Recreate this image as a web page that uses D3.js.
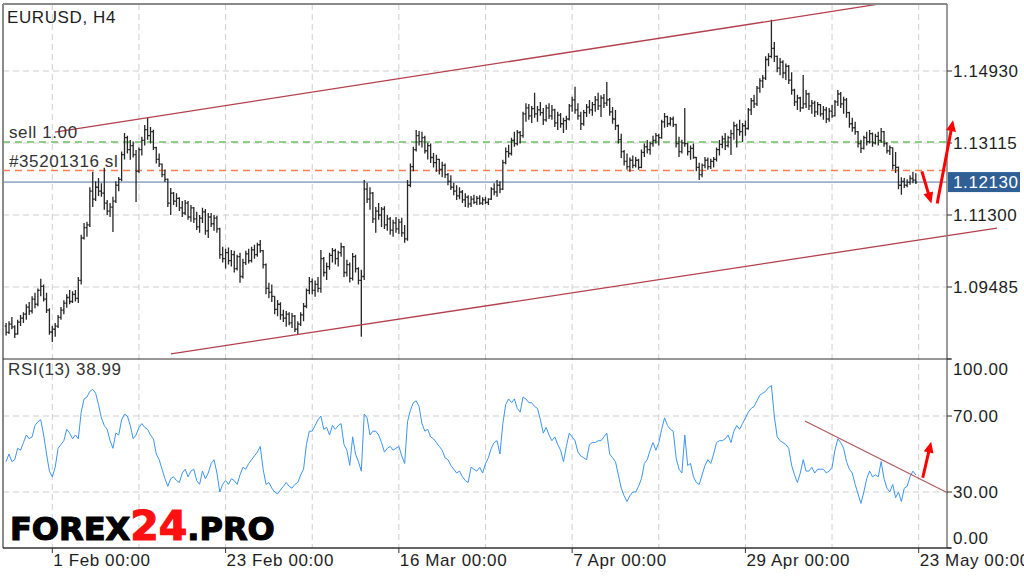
<!DOCTYPE html>
<html><head><meta charset="utf-8">
<script src="https://cdn.jsdelivr.net/npm/d3@7"></script>
<style>html,body{margin:0;padding:0;background:#fff;}svg{display:block;}</style>
</head><body>
<svg id="chart" width="1024" height="577"></svg>
<script>
const symbolTitle = "EURUSD, H4";
const opens = [
1.0850,1.0834,1.0855,1.0848,1.0830,1.0860,1.0870,1.0880,1.0898,1.0888,
1.0918,1.0905,1.0940,1.0950,1.0918,1.0890,1.0835,1.0842,1.0850,1.0872,
1.0890,1.0908,1.0922,1.0912,1.0930,1.0920,1.0965,1.1072,1.1098,1.1105,
1.1190,1.1170,1.1200,1.1190,1.1185,1.1160,1.1140,1.1150,1.1165,1.1205,
1.1220,1.1282,1.1325,1.1295,1.1305,1.1282,1.1240,1.1295,1.1318,1.1345,
1.1330,1.1340,1.1300,1.1270,1.1258,1.1232,1.1220,1.1160,1.1185,1.1165,
1.1172,1.1148,1.1135,1.1160,1.1125,1.1148,1.1120,1.1100,1.1122,1.1138,
1.1090,1.1125,1.1108,1.1122,1.1095,1.1030,1.1020,1.1035,1.1015,1.1030,
1.0995,1.1025,1.0975,1.1010,1.1032,1.1015,1.1042,1.1030,1.1055,1.1040,
1.1005,1.0945,1.0935,1.0925,1.0892,1.0905,1.0878,1.0870,1.0880,1.0858,
1.0875,1.0842,1.0855,1.0878,1.0900,1.0940,1.0962,1.0940,1.0955,1.0945,
1.1020,1.0985,1.1000,1.1028,1.1040,1.1020,1.1035,1.1050,1.0985,1.1005,
1.0970,1.1025,1.0995,1.0965,1.0975,1.1195,1.1170,1.1185,1.1120,1.1140,
1.1130,1.1145,1.1105,1.1120,1.1092,1.1110,1.1095,1.1112,1.1085,1.1070,
1.1205,1.1252,1.1295,1.1330,1.1315,1.1325,1.1292,1.1305,1.1275,1.1262,
1.1270,1.1245,1.1255,1.1232,1.1215,1.1200,1.1190,1.1178,1.1188,1.1168,
1.1175,1.1158,1.1170,1.1162,1.1172,1.1160,1.1168,1.1162,1.1170,1.1195,
1.1188,1.1205,1.1195,1.1262,1.1290,1.1285,1.1318,1.1310,1.1338,1.1330,
1.1385,1.1400,1.1380,1.1398,1.1385,1.1395,1.1388,1.1370,1.1400,1.1380,
1.1395,1.1362,1.1382,1.1360,1.1368,1.1372,1.1405,1.1420,1.1395,1.1380,
1.1360,1.1388,1.1402,1.1395,1.1408,1.1420,1.1405,1.1425,1.1412,1.1420,
1.1390,1.1372,1.1355,1.1320,1.1290,1.1265,1.1252,1.1268,1.1255,1.1268,
1.1250,1.1288,1.1302,1.1295,1.1310,1.1318,1.1330,1.1325,1.1365,1.1378,
1.1360,1.1372,1.1358,1.1310,1.1290,1.1312,1.1310,1.1290,1.1298,1.1275,
1.1250,1.1232,1.1255,1.1268,1.1252,1.1265,1.1270,1.1295,1.1308,1.1322,
1.1305,1.1325,1.1335,1.1355,1.1345,1.1340,1.1355,1.1348,1.1395,1.1418,
1.1410,1.1450,1.1468,1.1475,1.1522,1.1530,1.1550,1.1530,1.1500,1.1515,
1.1488,1.1505,1.1470,1.1445,1.1415,1.1425,1.1400,1.1410,1.1435,1.1405,
1.1412,1.1390,1.1408,1.1385,1.1395,1.1372,1.1392,1.1380,1.1415,1.1435,
1.1410,1.1420,1.1388,1.1360,1.1350,1.1340,1.1310,1.1298,1.1325,1.1315,
1.1335,1.1312,1.1328,1.1318,1.1340,1.1310,1.1292,1.1300,1.1255,1.1250,
1.1205,1.1215,1.1205,1.1212,1.1222,1.1218];
const highs = [
1.0858,1.0862,1.0873,1.0852,1.0866,1.0878,1.0885,1.0905,1.0911,1.0925,
1.0934,1.0945,1.0969,1.0955,1.0934,1.0895,1.0850,1.0858,1.0878,1.0898,
1.0915,1.0930,1.0941,1.0938,1.0941,1.0974,1.1080,1.1110,1.1113,1.1200,
1.1239,1.1215,1.1223,1.1210,1.1249,1.1168,1.1160,1.1176,1.1215,1.1226,
1.1290,1.1337,1.1330,1.1319,1.1315,1.1294,1.1300,1.1327,1.1357,1.1375,
1.1352,1.1345,1.1302,1.1285,1.1260,1.1245,1.1222,1.1198,1.1188,1.1185,
1.1175,1.1165,1.1168,1.1165,1.1155,1.1150,1.1138,1.1130,1.1148,1.1145,
1.1135,1.1135,1.1130,1.1128,1.1098,1.1050,1.1045,1.1048,1.1042,1.1040,
1.1030,1.1035,1.1020,1.1040,1.1045,1.1050,1.1055,1.1060,1.1067,1.1042,
1.1008,1.0959,1.0955,1.0925,1.0916,1.0910,1.0891,1.0888,1.0885,1.0883,
1.0878,1.0862,1.0885,1.0908,1.0945,1.0974,1.0970,1.0965,1.0974,1.1042,
1.1024,1.1010,1.1035,1.1047,1.1045,1.1040,1.1060,1.1052,1.1017,1.1010,
1.1034,1.1030,1.0998,1.0992,1.1218,1.1211,1.1200,1.1188,1.1150,1.1160,
1.1150,1.1152,1.1130,1.1125,1.1118,1.1125,1.1120,1.1123,1.1105,1.1218,
1.1260,1.1302,1.1344,1.1342,1.1340,1.1330,1.1312,1.1310,1.1286,1.1282,
1.1272,1.1264,1.1260,1.1236,1.1230,1.1211,1.1205,1.1200,1.1193,1.1185,
1.1180,1.1178,1.1181,1.1178,1.1180,1.1175,1.1176,1.1172,1.1200,1.1210,
1.1218,1.1215,1.1269,1.1300,1.1307,1.1325,1.1340,1.1344,1.1342,1.1390,
1.1412,1.1410,1.1405,1.1438,1.1405,1.1415,1.1400,1.1408,1.1412,1.1407,
1.1398,1.1390,1.1387,1.1375,1.1380,1.1410,1.1428,1.1453,1.1412,1.1390,
1.1395,1.1410,1.1420,1.1415,1.1430,1.1438,1.1432,1.1435,1.1465,1.1425,
1.1402,1.1395,1.1358,1.1335,1.1294,1.1285,1.1275,1.1280,1.1276,1.1272,
1.1295,1.1310,1.1319,1.1315,1.1330,1.1337,1.1335,1.1370,1.1387,1.1380,
1.1377,1.1378,1.1360,1.1327,1.1320,1.1400,1.1312,1.1305,1.1310,1.1276,
1.1262,1.1260,1.1276,1.1275,1.1272,1.1276,1.1300,1.1319,1.1330,1.1337,
1.1330,1.1345,1.1365,1.1360,1.1370,1.1362,1.1368,1.1400,1.1425,1.1433,
1.1455,1.1475,1.1483,1.1530,1.1538,1.1622,1.1566,1.1532,1.1526,1.1520,
1.1512,1.1508,1.1490,1.1448,1.1433,1.1428,1.1483,1.1445,1.1438,1.1420,
1.1418,1.1415,1.1410,1.1405,1.1402,1.1400,1.1407,1.1420,1.1445,1.1440,
1.1428,1.1425,1.1390,1.1375,1.1365,1.1342,1.1320,1.1330,1.1340,1.1344,
1.1338,1.1335,1.1340,1.1349,1.1342,1.1314,1.1305,1.1300,1.1289,1.1252,
1.1225,1.1223,1.1220,1.1230,1.1239,1.1235];
const lows = [
1.0826,1.0830,1.0842,1.0820,1.0828,1.0850,1.0858,1.0866,1.0878,1.0882,
1.0895,1.0900,1.0925,1.0912,1.0883,1.0828,1.0810,1.0823,1.0845,1.0866,
1.0880,1.0896,1.0905,1.0908,1.0912,1.0908,1.0955,1.1068,1.1075,1.1100,
1.1150,1.1165,1.1178,1.1176,1.1143,1.1130,1.1125,1.1087,1.1160,1.1190,
1.1215,1.1270,1.1285,1.1269,1.1275,1.1163,1.1235,1.1280,1.1305,1.1320,
1.1310,1.1294,1.1260,1.1251,1.1225,1.1213,1.1150,1.1130,1.1155,1.1150,
1.1140,1.1125,1.1130,1.1118,1.1113,1.1110,1.1092,1.1085,1.1110,1.1080,
1.1072,1.1100,1.1090,1.1085,1.1020,1.1010,1.0995,1.1005,1.1000,1.0985,
1.0990,1.0959,1.0970,1.1004,1.1008,1.1010,1.1020,1.1025,1.1035,1.0995,
1.0930,1.0920,1.0911,1.0880,1.0875,1.0866,1.0860,1.0848,1.0852,1.0845,
1.0835,1.0828,1.0850,1.0862,1.0895,1.0930,1.0930,1.0924,1.0935,1.0934,
1.0975,1.0966,1.0992,1.1010,1.1005,1.1000,1.1025,1.0974,1.0975,1.0960,
1.0965,1.0985,1.0955,1.0823,1.0966,1.1160,1.1143,1.1110,1.1085,1.1118,
1.1100,1.1095,1.1090,1.1080,1.1075,1.1085,1.1082,1.1075,1.1060,1.1065,
1.1200,1.1240,1.1290,1.1305,1.1300,1.1285,1.1270,1.1261,1.1250,1.1239,
1.1232,1.1225,1.1223,1.1205,1.1193,1.1180,1.1168,1.1170,1.1160,1.1150,
1.1148,1.1150,1.1158,1.1155,1.1156,1.1155,1.1158,1.1155,1.1168,1.1180,
1.1176,1.1185,1.1193,1.1258,1.1275,1.1280,1.1302,1.1305,1.1310,1.1325,
1.1365,1.1370,1.1362,1.1375,1.1365,1.1380,1.1357,1.1365,1.1372,1.1370,
1.1352,1.1344,1.1350,1.1337,1.1345,1.1368,1.1390,1.1385,1.1370,1.1344,
1.1355,1.1377,1.1385,1.1380,1.1390,1.1395,1.1377,1.1400,1.1405,1.1380,
1.1360,1.1344,1.1310,1.1274,1.1255,1.1245,1.1239,1.1248,1.1250,1.1244,
1.1248,1.1276,1.1285,1.1282,1.1302,1.1310,1.1305,1.1322,1.1350,1.1352,
1.1355,1.1352,1.1300,1.1276,1.1285,1.1302,1.1280,1.1269,1.1272,1.1240,
1.1218,1.1225,1.1248,1.1244,1.1246,1.1250,1.1265,1.1280,1.1298,1.1294,
1.1300,1.1281,1.1320,1.1300,1.1330,1.1314,1.1330,1.1345,1.1382,1.1400,
1.1405,1.1438,1.1450,1.1470,1.1505,1.1525,1.1516,1.1490,1.1482,1.1475,
1.1470,1.1460,1.1433,1.1405,1.1395,1.1390,1.1398,1.1400,1.1395,1.1385,
1.1377,1.1382,1.1378,1.1370,1.1362,1.1365,1.1375,1.1378,1.1405,1.1400,
1.1385,1.1375,1.1350,1.1340,1.1332,1.1300,1.1286,1.1295,1.1305,1.1310,
1.1302,1.1308,1.1305,1.1312,1.1302,1.1285,1.1281,1.1245,1.1236,1.1195,
1.1181,1.1198,1.1200,1.1206,1.1210,1.1208];
const closes = [
1.0834,1.0855,1.0848,1.0830,1.0860,1.0870,1.0880,1.0898,1.0888,1.0918,
1.0905,1.0940,1.0950,1.0918,1.0890,1.0835,1.0842,1.0850,1.0872,1.0890,
1.0908,1.0922,1.0912,1.0930,1.0920,1.0965,1.1072,1.1098,1.1105,1.1190,
1.1170,1.1200,1.1190,1.1185,1.1160,1.1140,1.1150,1.1165,1.1205,1.1220,
1.1282,1.1325,1.1295,1.1305,1.1282,1.1240,1.1295,1.1318,1.1345,1.1330,
1.1340,1.1300,1.1270,1.1258,1.1232,1.1220,1.1160,1.1185,1.1165,1.1172,
1.1148,1.1135,1.1160,1.1125,1.1148,1.1120,1.1100,1.1122,1.1138,1.1090,
1.1125,1.1108,1.1122,1.1095,1.1030,1.1020,1.1035,1.1015,1.1030,1.0995,
1.1025,1.0975,1.1010,1.1032,1.1015,1.1042,1.1030,1.1055,1.1040,1.1005,
1.0945,1.0935,1.0925,1.0892,1.0905,1.0878,1.0870,1.0880,1.0858,1.0875,
1.0842,1.0855,1.0878,1.0900,1.0940,1.0962,1.0940,1.0955,1.0945,1.1020,
1.0985,1.1000,1.1028,1.1040,1.1020,1.1035,1.1050,1.0985,1.1005,1.0970,
1.1025,1.0995,1.0965,1.0975,1.1195,1.1170,1.1185,1.1120,1.1140,1.1130,
1.1145,1.1105,1.1120,1.1092,1.1110,1.1095,1.1112,1.1085,1.1070,1.1205,
1.1252,1.1295,1.1330,1.1315,1.1325,1.1292,1.1305,1.1275,1.1262,1.1270,
1.1245,1.1255,1.1232,1.1215,1.1200,1.1190,1.1178,1.1188,1.1168,1.1175,
1.1158,1.1170,1.1162,1.1172,1.1160,1.1168,1.1162,1.1170,1.1195,1.1188,
1.1205,1.1195,1.1262,1.1290,1.1285,1.1318,1.1310,1.1338,1.1330,1.1385,
1.1400,1.1380,1.1398,1.1385,1.1395,1.1388,1.1370,1.1400,1.1380,1.1395,
1.1362,1.1382,1.1360,1.1368,1.1372,1.1405,1.1420,1.1395,1.1380,1.1360,
1.1388,1.1402,1.1395,1.1408,1.1420,1.1405,1.1425,1.1412,1.1420,1.1390,
1.1372,1.1355,1.1320,1.1290,1.1265,1.1252,1.1268,1.1255,1.1268,1.1250,
1.1288,1.1302,1.1295,1.1310,1.1318,1.1330,1.1325,1.1365,1.1378,1.1360,
1.1372,1.1358,1.1310,1.1290,1.1312,1.1310,1.1290,1.1298,1.1275,1.1250,
1.1232,1.1255,1.1268,1.1252,1.1265,1.1270,1.1295,1.1308,1.1322,1.1305,
1.1325,1.1335,1.1355,1.1345,1.1340,1.1355,1.1348,1.1395,1.1418,1.1410,
1.1450,1.1468,1.1475,1.1522,1.1530,1.1550,1.1530,1.1500,1.1515,1.1488,
1.1505,1.1470,1.1445,1.1415,1.1425,1.1400,1.1410,1.1435,1.1405,1.1412,
1.1390,1.1408,1.1385,1.1395,1.1372,1.1392,1.1380,1.1415,1.1435,1.1410,
1.1420,1.1388,1.1360,1.1350,1.1340,1.1310,1.1298,1.1325,1.1315,1.1335,
1.1312,1.1328,1.1318,1.1340,1.1310,1.1292,1.1300,1.1255,1.1250,1.1205,
1.1215,1.1205,1.1212,1.1222,1.1218,1.1213];
const rsiValues = [
46,50,46,47,53,52,56,60,58,59,
65,67,68,60,50,41,38,43,53,55,
57,63,61,58,60,58,72,79,80,83,
84,82,76,69,65,63,57,53,61,60,
68,71,70,65,58,60,64,66,64,63,
60,58,50,47,42,37,33,37,38,36,
35,40,42,38,41,42,36,34,41,37,
40,45,47,40,30,34,36,34,37,36,
34,39,43,42,45,47,49,51,54,42,
34,35,32,30,29,31,33,35,33,32,
34,35,39,42,55,62,62,65,68,70,
63,64,60,65,63,65,66,55,52,44,
59,50,46,41,71,69,60,62,62,60,
56,51,53,54,52,53,54,49,45,67,
73,77,78,75,66,62,63,59,58,56,
54,52,48,47,44,42,40,41,38,36,
35,43,42,41,43,40,45,48,53,56,
57,50,66,76,79,77,79,74,72,80,
79,77,77,75,74,68,61,64,60,57,
59,55,52,46,54,61,59,57,51,49,
48,47,55,56,56,57,57,59,61,50,
48,46,39,32,28,25,28,30,30,33,
37,45,47,52,56,52,56,63,69,65,
63,62,48,42,40,60,44,45,38,35,
34,39,44,47,45,50,56,57,57,58,
60,56,62,65,63,66,69,72,74,75,
78,81,82,83,85,86,70,59,57,56,
55,53,44,39,35,40,47,41,41,43,
40,42,42,42,40,41,43,52,58,56,
53,46,42,40,34,29,24,30,37,41,
38,39,38,46,37,32,30,34,27,30,
25,32,33,38,41,38.99];
const rsiName = "RSI(13)";
const priceTicks = [1.14930, 1.13115, 1.11300, 1.09485];
const rsiTicks = [100, 70, 30, 0];
const rsiGridLevels = [70, 30];
const gridBars = [16, 46, 76, 106, 136, 166, 196, 226, 256, 286, 316];
const timeTickBars = [16, 76, 136, 196, 256, 316];
const timeTickLabels = ["1 Feb 00:00", "23 Feb 00:00", "16 Mar 00:00", "7 Apr 00:00", "29 Apr 00:00", "23 May 00:00"];
const lastPrice = 1.12130;
const sellLevel = 1.1314;
const stopLevel = 1.1242;
const orderLabels = ["sell 1.00", "#35201316 sl"];
const upperChannel = [[16.9, 1.1339], [302.6, 1.1662]];
const lowerChannel = [[57.1, 1.0780], [343.1, 1.1097]];
const rsiTrendLine = [[276.6, 67.4], [326.1, 29.5]];
const priceArrows = [[[317.1, 1.1240], [320.4, 1.1159]], [[322.4, 1.1159], [327.9, 1.1369]]];
const rsiArrow = [[317.4, 37.5], [320.3, 56.5]];
const logoParts = [["FOREX", "#000"], ["24", "#ff1010"], [".PRO", "#000"]];

// ---- layout ----
const Lx = 3, Rx = 947, Ty = 4, SEPy = 359, By = 548;
const FONT = "'Liberation Sans', Arial, sans-serif";
const svg = d3.select("#chart");
const x = d3.scaleLinear().domain([0, 316]).range([6.1, 918.7]);
const y = d3.scaleLinear().domain([1.09485, 1.14930]).range([287, 71]);
const yr = d3.scaleLinear().domain([0, 100]).range([549, 359]);

svg.append("rect").attr("width", 1024).attr("height", 577).attr("fill", "#fff");
const defs = svg.append("defs");
defs.append("clipPath").attr("id", "cp").append("rect").attr("x", Lx).attr("y", Ty).attr("width", Rx - Lx).attr("height", SEPy - Ty);
defs.append("clipPath").attr("id", "cr").append("rect").attr("x", Lx).attr("y", SEPy).attr("width", Rx - Lx).attr("height", By - SEPy);

const grid = svg.append("g").attr("stroke", "#cfcfcf").attr("stroke-dasharray", "6,4").attr("stroke-width", 1);
grid.selectAll(".vg").data(gridBars).join("line")
  .attr("x1", d => x(d)).attr("x2", d => x(d)).attr("y1", Ty).attr("y2", By);
grid.selectAll(".hg").data(priceTicks).join("line").attr("class", "hg")
  .attr("x1", Lx).attr("x2", Rx).attr("y1", d => y(d)).attr("y2", d => y(d));
grid.selectAll(".rg").data(rsiGridLevels).join("line").attr("class", "rg")
  .attr("x1", Lx).attr("x2", Rx).attr("y1", d => yr(d)).attr("y2", d => yr(d));

// order levels
svg.append("line").attr("x1", Lx).attr("x2", Rx).attr("y1", y(sellLevel)).attr("y2", y(sellLevel))
  .attr("stroke", "#6fc163").attr("stroke-width", 1.5).attr("stroke-dasharray", "7,5");
svg.append("line").attr("x1", Lx).attr("x2", Rx).attr("y1", y(stopLevel)).attr("y2", y(stopLevel))
  .attr("stroke", "#ff7d4f").attr("stroke-width", 1.5).attr("stroke-dasharray", "7,5");
svg.append("line").attr("x1", Lx).attr("x2", Rx).attr("y1", y(lastPrice)).attr("y2", y(lastPrice))
  .attr("stroke", "#52739f").attr("stroke-width", 1);

// bars
const n = Math.min(opens.length, highs.length, lows.length, closes.length);
const bars = d3.range(n);
svg.append("g").attr("clip-path", "url(#cp)").selectAll("path").data(bars).join("path")
  .attr("d", i => {
    const xi = x(i);
    return `M${xi},${y(highs[i])}V${y(lows[i])}M${xi - 1.4},${y(opens[i])}H${xi}M${xi},${y(closes[i])}H${xi + 1.4}`;
  })
  .attr("fill", "none").attr("stroke", "#262626").attr("stroke-width", 1.3);

// channel lines
const pl = d3.line().x(d => x(d[0])).y(d => y(d[1]));
[upperChannel, lowerChannel].forEach(c => svg.append("path").attr("d", pl(c))
  .attr("fill", "none").attr("stroke", "#b3404c").attr("stroke-width", 1.3));

// RSI
const rl = d3.line().x((d, i) => x(i)).y(d => yr(d));
svg.append("path").attr("clip-path", "url(#cr)").attr("d", rl(rsiValues))
  .attr("fill", "none").attr("stroke", "#3d95f2").attr("stroke-width", 1);
svg.append("path").attr("d", d3.line().x(d => x(d[0])).y(d => yr(d[1]))(rsiTrendLine))
  .attr("fill", "none").attr("stroke", "#b3565e").attr("stroke-width", 1.2);

// frame
const frame = svg.append("g");
frame.append("line").attr("x1", Lx).attr("x2", Lx).attr("y1", Ty).attr("y2", By).attr("stroke", "#8a8a8a").attr("stroke-width", 2);
frame.append("line").attr("x1", Lx).attr("x2", Rx).attr("y1", Ty).attr("y2", Ty).attr("stroke", "#8a8a8a").attr("stroke-width", 2);
frame.append("line").attr("x1", Rx).attr("x2", Rx).attr("y1", Ty).attr("y2", By).attr("stroke", "#7a7a7a").attr("stroke-width", 1.5);
frame.append("line").attr("x1", Lx).attr("x2", Rx + 4).attr("y1", SEPy).attr("y2", SEPy).attr("stroke", "#333").attr("stroke-width", 1.2);
frame.append("line").attr("x1", Lx).attr("x2", Rx + 4).attr("y1", By).attr("y2", By).attr("stroke", "#333").attr("stroke-width", 1.5);

// axis ticks & labels
const txt = (sel) => sel.attr("font-family", FONT).attr("font-size", 17).attr("letter-spacing", 0.6).attr("fill", "#1e1e1e");
svg.selectAll(".pt").data(priceTicks).join("line").attr("class", "pt")
  .attr("x1", Rx).attr("x2", Rx + 5).attr("y1", d => y(d)).attr("y2", d => y(d)).attr("stroke", "#333");
svg.selectAll(".ptl").data(priceTicks).join("text").attr("class", "ptl").call(txt)
  .attr("x", Rx + 6).attr("y", d => y(d) + 6).text(d => d.toFixed(5));
svg.selectAll(".rt").data(rsiTicks).join("line").attr("class", "rt")
  .attr("x1", Rx).attr("x2", Rx + 5).attr("y1", d => Math.min(By, Math.max(SEPy, yr(d)))).attr("y2", d => Math.min(By, Math.max(SEPy, yr(d)))).attr("stroke", "#333");
svg.selectAll(".rtl").data(rsiTicks).join("text").attr("class", "rtl").call(txt)
  .attr("x", Rx + 6).attr("y", d => Math.min(By - 4, Math.max(SEPy + 16, yr(d) + 6))).text(d => d.toFixed(2));
svg.selectAll(".tt").data(timeTickBars).join("line").attr("class", "tt")
  .attr("x1", d => x(d)).attr("x2", d => x(d)).attr("y1", By).attr("y2", By + 5).attr("stroke", "#333");
svg.selectAll(".ttl").data(timeTickBars).join("text").attr("class", "ttl").call(txt)
  .attr("x", d => x(d) + 1).attr("y", 566).text((d, i) => timeTickLabels[i]);

// last price tag
svg.append("rect").attr("x", Rx + 1).attr("y", y(lastPrice) - 10).attr("width", 72).attr("height", 20).attr("fill", "#2f5f95");
svg.append("text").call(txt).attr("fill", "#fff").attr("x", Rx + 6).attr("y", y(lastPrice) + 6).text(lastPrice.toFixed(5));

// titles
svg.append("text").call(txt).attr("x", 7).attr("y", 23).text(symbolTitle);
svg.append("text").call(txt).attr("fill", "#333").attr("x", 9).attr("y", y(sellLevel) - 4).text(orderLabels[0]);
svg.append("text").call(txt).attr("fill", "#333").attr("x", 9).attr("y", y(stopLevel) - 4).text(orderLabels[1]);
svg.append("text").call(txt).attr("fill", "#333").attr("x", 8).attr("y", 375)
  .text(rsiName + " " + rsiValues[rsiValues.length - 1].toFixed(2));

// arrows
function arrow(p0, p1) {
  const dx = p1[0] - p0[0], dy = p1[1] - p0[1], len = Math.hypot(dx, dy);
  const ux = dx / len, uy = dy / len, hl = 11, hw = 5;
  const bx = p1[0] - ux * hl, by = p1[1] - uy * hl;
  svg.append("line").attr("x1", p0[0]).attr("y1", p0[1]).attr("x2", bx + ux * 2).attr("y2", by + uy * 2)
    .attr("stroke", "#ff0000").attr("stroke-width", 3);
  svg.append("path").attr("d", `M${p1[0]},${p1[1]}L${bx - uy * hw},${by + ux * hw}L${bx + uy * hw},${by - ux * hw}Z`).attr("fill", "#ff0000");
}
priceArrows.forEach(a => arrow([x(a[0][0]), y(a[0][1])], [x(a[1][0]), y(a[1][1])]));
arrow([x(rsiArrow[0][0]), yr(rsiArrow[0][1])], [x(rsiArrow[1][0]), yr(rsiArrow[1][1])]);

// logo
const logo = svg.append("text").attr("x", 10).attr("y", 540)
  .attr("font-family", "'DejaVu Sans', sans-serif").attr("font-weight", "bold");
logoParts.forEach(p => logo.append("tspan").text(p[0]).attr("fill", p[1]).attr("stroke", p[1]).attr("stroke-width", 1.2)
  .attr("font-size", p[0] === "24" ? 41 : 32));
</script>
</body></html>
